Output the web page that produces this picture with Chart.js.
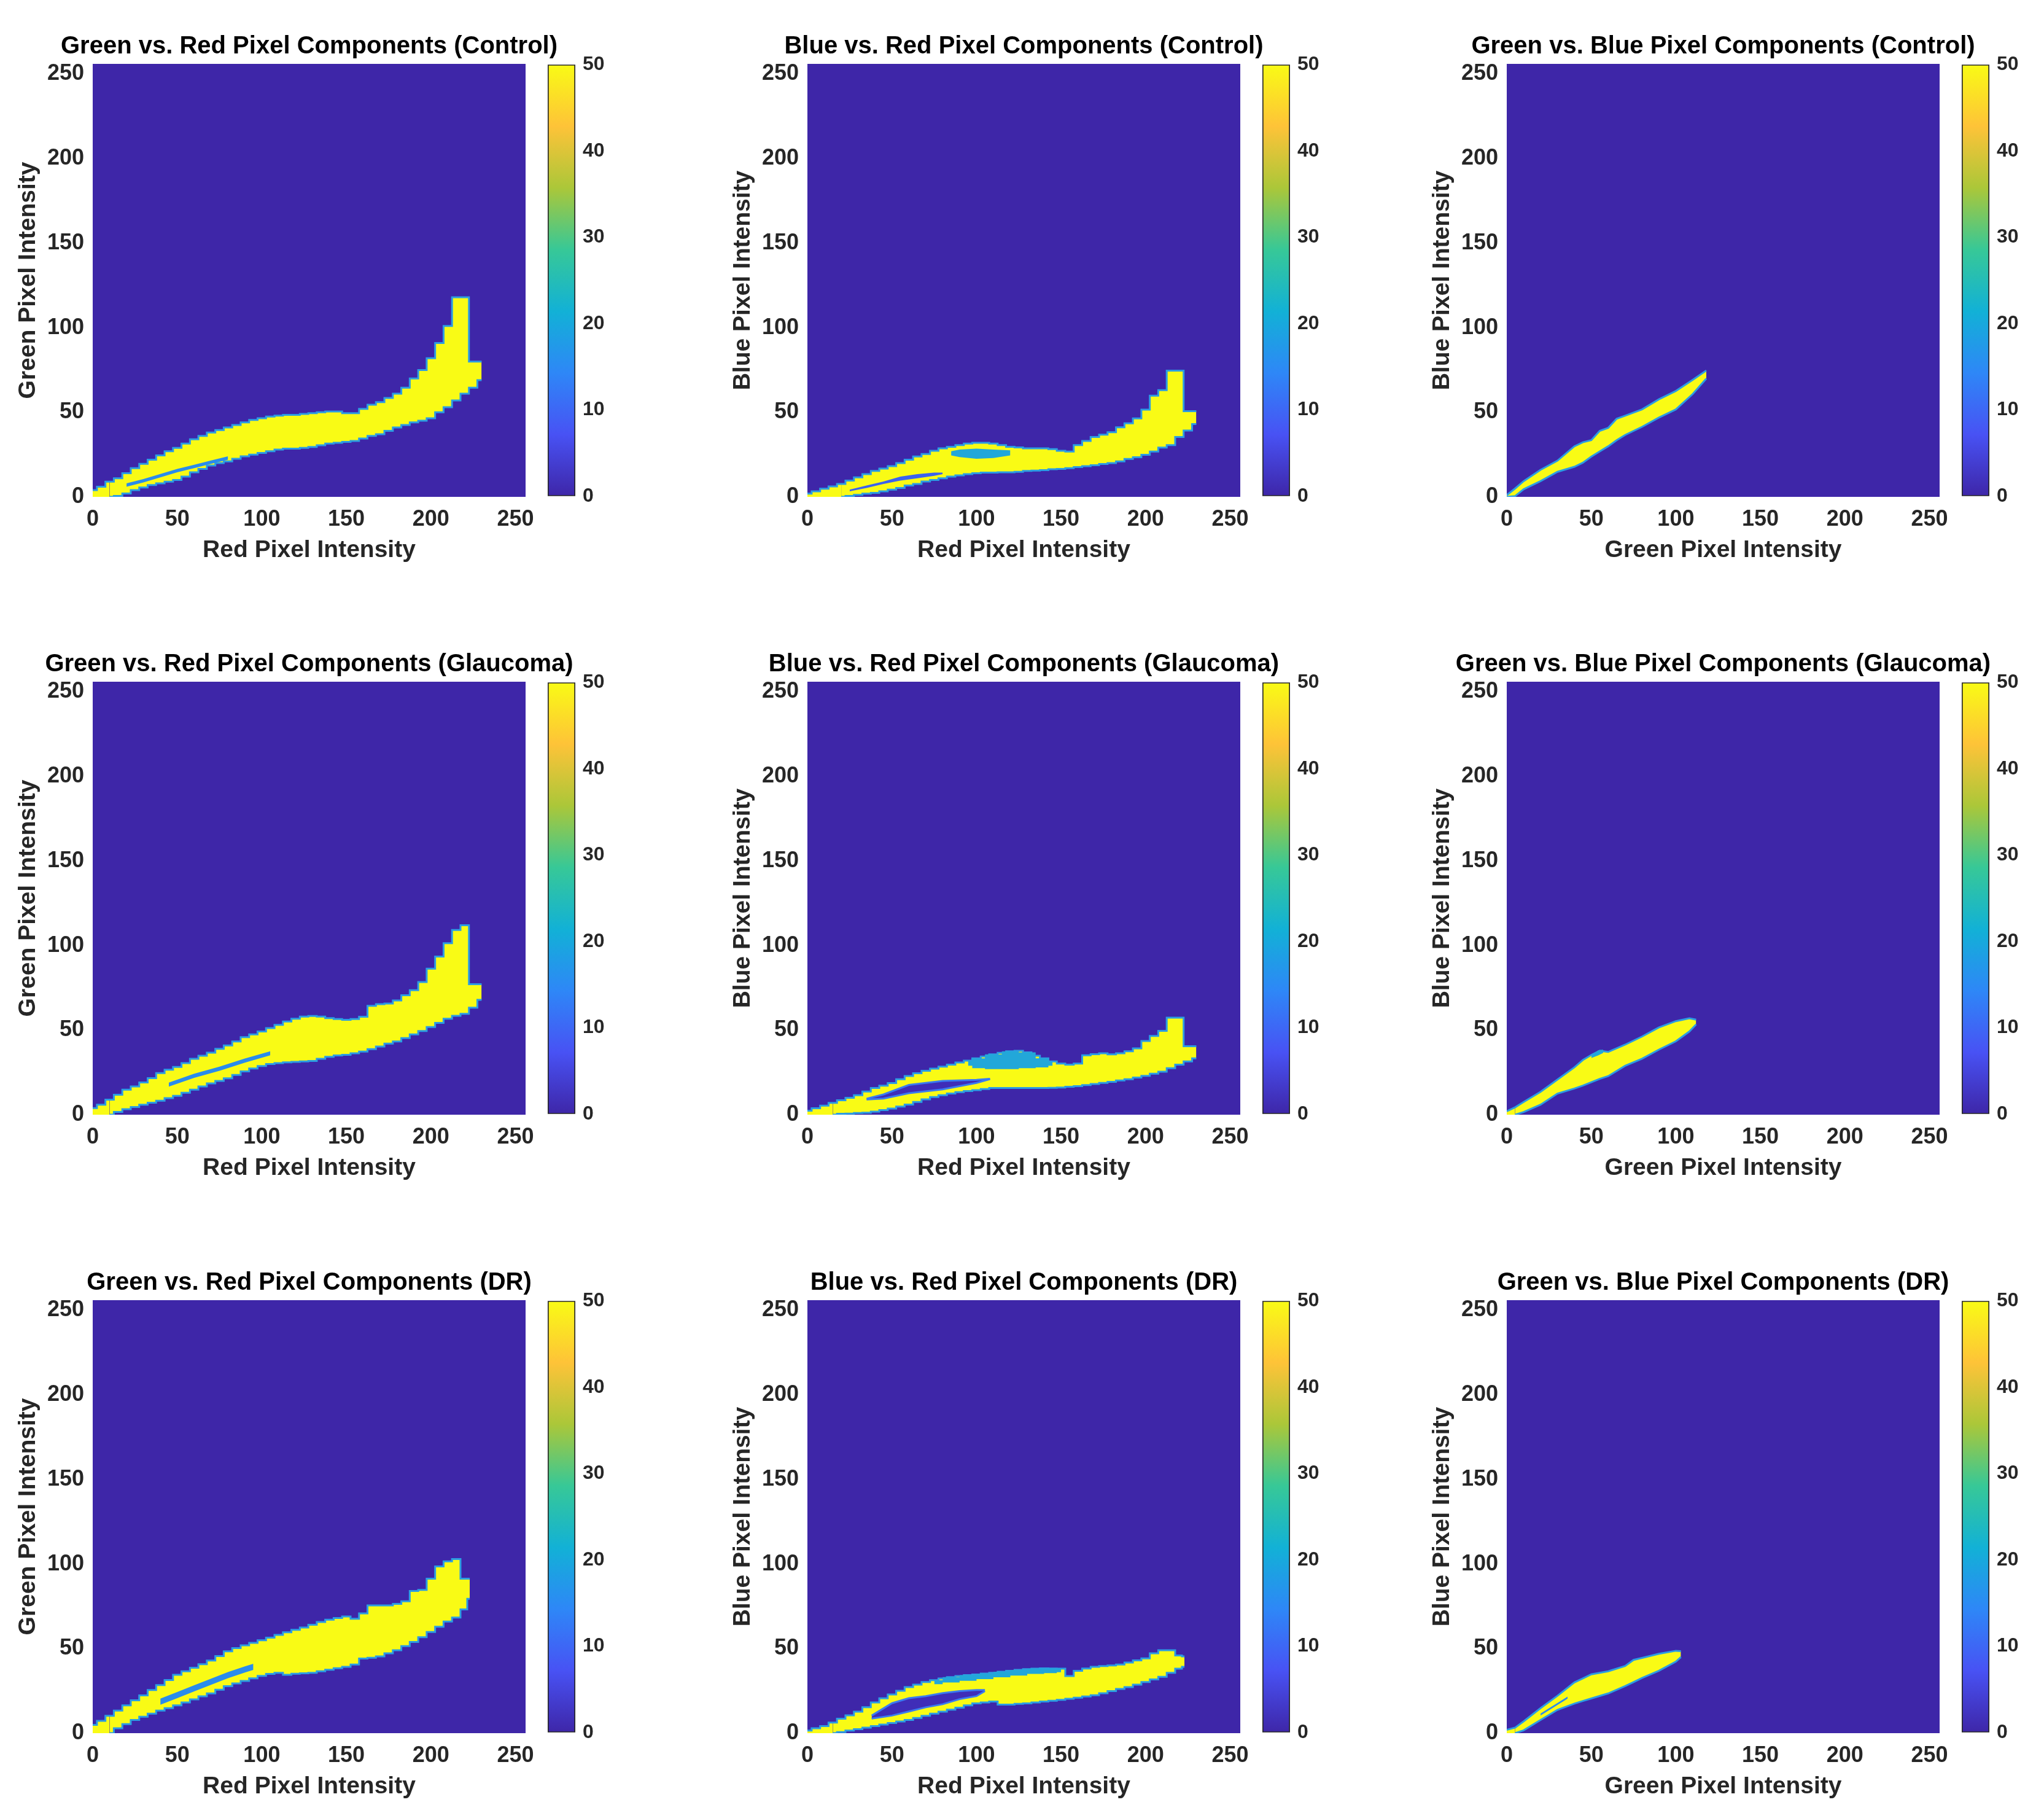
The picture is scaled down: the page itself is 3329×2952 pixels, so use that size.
<!DOCTYPE html>
<html lang="en">
<head>
  <meta charset="UTF-8" />
  <title>Pixel component histograms</title>
  <script src="https://cdn.jsdelivr.net/npm/chart.js@4.4.0/dist/chart.umd.min.js"></script>
  <style>
    body { margin: 0; background: #fff; width: 3329px; height: 2952px; position: relative; overflow: hidden; }
    .box { position: absolute; }
  </style>
</head>
<body>
<script>
  // ---- data: bin centres and band edges ----
  const bins230 = [0,5,10,15,20,25,30,35,40,45,50,55,60,65,70,75,80,85,90,95,100,105,110,115,120,125,130,135,140,145,150,155,160,165,170,175,180,185,190,195,200,205,210,215,220,225,230];
  const bins223 = [0,5,10,15,20,25,30,35,40,45,50,55,60,65,70,75,80,85,90,95,100,105,110,115,120,125,130,135,140,145,150,155,160,165,170,175,180,185,190,195,200,205,210,215,220,223];

  // Green vs Red (Control)
  const grCtrlHi = [4,6,9,11,14,17,19.5,22,24.5,27,29,31.5,34,36,38,39.5,41,42.5,44,45.5,46.5,47.5,48,48.5,48.5,49,49.5,50,50.5,50.5,49.5,49.5,52,54.5,56,58.5,61,64.5,70,75,82,91,101,118,118,80,80];
  const grCtrlLo = [0,0,0,0.5,2,4,5.5,7,8,9,10,12,14.5,16.5,18.5,20,21,22.5,24,25,26,27,28,28.5,28.5,29,29.5,30.5,31.5,32,32.5,33,34.5,36,37,39,41,42.5,44,45,46.5,50,53,57,61,64.5,69];
  const grCtrlStreakX = [20,30,40,50,60,70,80];
  const grCtrlStreakLo = [6,8.5,11.5,14.5,17,19.5,22];
  const grCtrlStreakHi = [8,10.5,13.5,16.5,19,21.5,24];

  // Blue vs Red (Control)
  const brCtrlHi = [1.9,3.3,4.8,6.2,7.6,9.6,11.5,13.4,15.3,16.7,18.2,20,22,23.9,25.3,27.2,28.7,29.6,30.6,31.5,32,32,31.5,30.6,29.6,29.2,28.7,28.7,28.7,28.2,27.2,26.8,30.6,33,35.4,36.8,38.2,41.1,43.5,46.4,51.6,59.8,63.1,74.6,74.6,50.7,50.7];
  const brCtrlLo = [0,0,0,0,0,0.5,1.2,1.9,2.4,3.3,4.3,5.3,6.7,7.6,9.1,10,11,12,12.7,13.4,14,14.3,14.3,14.5,14.5,14.8,15.3,15.5,15.8,16.3,16.5,17,17.6,18.2,18.7,19.4,20,21,22.4,23.4,24.9,26.8,29.1,30.6,35.4,39.2,43];
  const brCtrlStreakX = [25,35,45,55,65,75,80];
  const brCtrlStreakLo = [3.3,5.3,7.6,9.6,11,12.4,13.4];
  const brCtrlStreakHi = [4.3,6.7,9.1,12,13.4,14.3,14.3];
  const brCtrlPatchX = [85,90,100,110,120];
  const brCtrlPatchLo = [24.5,23.5,22.5,23,24.5];
  const brCtrlPatchHi = [27,28,28.5,28,27.5];

  // Green vs Blue (Control)
  const gbCtrlX = [0,5,10,20,30,40,45,50,55,60,65,70,80,90,100,110,118];
  const gbCtrlHi = [1,5,9.3,16,21.4,29.9,32.3,33.5,39,40.8,46.2,48,51.7,57.7,62.6,69.2,74.7];
  const gbCtrlLo = [0,0.5,4.5,9.3,14.8,17.8,20.2,23.8,26.9,29.9,33.5,36.6,41.4,46.9,51.7,60.8,69.9];

  // Green vs Red (Glaucoma)
  const grGlauHi = [3.9,5.9,8.9,11.8,14.8,16.7,19.1,21.6,24.6,26.6,28.2,30.5,33,34.9,36.7,38.9,40.9,43.3,45.8,47.5,49.2,51.2,53.1,55.1,56.7,58,58.4,58,57.1,56.6,56.1,56.6,57.9,64.4,65.4,65.7,67.5,70.6,73.6,78.4,86.3,93.5,101.4,109.2,112,77.2,77.2];
  const grGlauLo = [0,0,0,1.6,3.3,4.5,5.9,7.1,8.3,9.8,11.2,13,14.8,16.7,18.5,20,21.5,23.5,25.6,27.3,28.8,30,30.5,31,31.2,31.5,31.8,33,34.2,35,35.4,36.3,37.3,38.8,40.3,42,43.3,45.3,47.5,49.5,51.8,54.3,56.7,58.5,59.6,63.3,67.9];
  const grGlauStreakX = [45,60,75,90,105];
  const grGlauStreakLo = [16.6,21.8,26,30.8,35.1];
  const grGlauStreakHi = [19,24.2,28.4,33.2,37.5];

  // Blue vs Red (Glaucoma)
  const brGlauHi = [2.4,3.8,5.4,7,8.5,10,11.5,13.7,15.8,17.2,18.7,21,22.9,24.5,26,27.2,28.4,29.6,30.9,32,33.3,34.4,35.7,36.6,37.5,37.8,36.9,34.9,33.3,31.5,30.2,29.6,30.2,35.1,35.8,36.3,35.7,36.3,37.5,39.2,43.6,46.6,49.6,57.4,57.4,40.5,40.5];
  const brGlauLo = [0,0,0,0,0.5,0.6,1,1.2,1.8,2.7,3.6,4.8,6,7.5,9.1,10.4,11.5,12.5,13.3,14,14.5,15.2,15.8,15.8,15.8,15.8,15.8,15.8,15.8,15.9,16.1,16.5,16.9,17.5,18.2,18.8,19.4,20.2,21,22,23,24.2,25.4,27.5,29.6,31.5,33.3];
  const brGlauHoleX = [35,45,60,80,100,108];
  const brGlauHoleLo = [9,9.5,12.7,15,18.8,21];
  const brGlauHoleHi = [9.5,12,17.6,20,20.6,21.2];
  const brGlauPatchX = [95,100,110,120,130,140,145];
  const brGlauPatchLo = [29,27.5,27,27,27.5,28,29];
  const brGlauPatchHi = [32,33.3,35.7,37.5,36.9,33.3,31.5];

  // Green vs Blue (Glaucoma)
  const gbGlauX = [0,5,10,20,30,40,45,50,55,60,70,80,90,100,108,112];
  const gbGlauHi = [2,4.4,7.5,13.5,20.8,28,32.3,35.3,37.8,37.1,41.4,46.2,51.6,55.3,57,56.2];
  const gbGlauLo = [0,0,1.6,5.9,12.5,15.5,17.2,19.2,21.2,22.8,28.9,33.1,38.5,43.4,49.2,53.4];
  const gbGlauBlipX = [50,54,57];
  const gbGlauBlipLo = [33.5,35,36.5];
  const gbGlauBlipHi = [34.5,38,38.5];

  // Green vs Red (DR)
  const grDrHi = [4.9,7.3,10.3,13.3,16.4,19.4,22.3,25.5,28.4,31.4,34.5,36.6,38.7,40.8,42.9,45.6,48.4,50.3,51.9,53.4,54.9,56.5,58.1,59.6,61.1,62.5,64.1,65.7,67.1,68.1,69,67.6,70.8,75.5,75.5,75.5,76.4,78,84.1,84.7,91.3,98.6,101.6,102.9,91.3,91.3];
  const grDrLo = [0,0,0,2.9,5.4,7.8,9.7,11.5,13.3,14.8,16.4,18.2,20,21.8,23.5,25.7,27.8,29.4,30.9,32.4,33.9,35,35.7,34.5,35.1,35.4,35.7,36.6,37.5,38.4,39.2,40.6,44.1,44.6,45.4,47.2,49,51.5,53.9,56.7,59.8,62.9,66,68.4,73.2,79.4];
  const grDrStreakX = [40,50,60,70,80,90,95];
  const grDrStreakLo = [16.8,20.7,24.7,28.6,32.5,35.9,37.4];
  const grDrStreakHi = [20.4,24.3,28.3,32.2,36.1,39.5,41];

  // Blue vs Red (DR)
  const brDrHi = [1.5,2.9,4.2,6.3,8.5,10.5,12.7,15.3,18.2,20.6,22.9,25.1,27.2,28.7,30.2,31.3,32.3,33.1,33.8,34.3,34.7,35.2,35.7,36.3,36.9,37.4,37.9,38.1,38.3,38.2,38.1,33.8,36.9,38.2,39.2,39.7,40,40.6,41.8,43,44.2,47.2,49,49,45.9,45.4];
  const brDrLo = [0,0,0,0,0.6,1.5,2.4,3.3,4.2,5.1,6,6.9,7.8,9,10.3,11.5,12.7,13.9,15.1,16.4,17.6,18.2,18.7,16.9,16.9,17.3,17.6,18.2,18.7,19.2,19.7,20.3,21,21.7,22.4,23.6,24.9,26.1,27.2,28.7,30.2,31.8,33.3,35.7,38.1,39.2];
  const brDrHoleX = [38,50,60,70,80,90,100,105];
  const brDrHoleLo = [8.6,10.4,12.8,15.3,17.1,20.1,21.9,24.9];
  const brDrHoleHi = [10.4,17.7,20.7,21.9,23.7,24.9,25.5,25.5];
  const brDrPatchX = [75,85,95,105,115,125,135,145,150];
  const brDrPatchLo = [29,30,31,32,33,34,35,35.5,36];
  const brDrPatchHi = [31.3,33.1,34.3,35.2,36.3,37.4,38.1,38.2,38.1];

  // Green vs Blue (DR)
  const gbDrX = [0,5,10,20,30,40,45,50,60,70,75,80,90,100,103];
  const gbDrHi = [2,3.3,7,14.8,22.1,30,32.4,34.8,36.6,39.7,43.3,44.5,46.9,48.7,48.5];
  const gbDrLo = [0,0,1.7,7.8,13.8,17.5,19,20.5,23.5,27.8,30.2,32.6,36.9,42.3,45];
  const gbDrStreakX = [20,28,36];
  const gbDrStreakLo = [10.4,15.4,20.4];
  const gbDrStreakHi = [11.6,16.6,21.6];

  const cbarTicks = [0, 10, 20, 30, 40, 50];

  // ---- styling ----
  const FONT = "'Liberation Sans', Arial, sans-serif";
  const TXT = '#262626';
  const BG = '#3E26A8';
  const YELLOW = '#F9FB15';
  const EDGE = '#2C9DE2';
  const STREAK = '#2A8CEB';
  const DEEP = '#3F2DB8';
  const CYAN = '#22A7D9';
  const parula = ['#3E26A8', '#4852F4', '#2E87F7', '#12B1D6', '#37C897', '#ABC739', '#FEC338', '#F9FB15'];

  const colLeft = [151, 1315, 2454];
  const rowTop = [104, 1110, 2117];
  const PLOT = 705;

  function band(x, lo, hi, color, extra) {
    return Object.assign({ x, lo, hi, color, stepped: false, edge: null }, extra || {});
  }

  const panels = [
    { r: 0, c: 0, title: 'Green vs. Red Pixel Components (Control)', xl: 'Red Pixel Intensity', yl: 'Green Pixel Intensity',
      layers: [band(grCtrlStreakX, grCtrlStreakLo, grCtrlStreakHi, STREAK),
               band(bins230, grCtrlLo, grCtrlHi, YELLOW, { stepped: 'middle', edge: EDGE })] },
    { r: 0, c: 1, title: 'Blue vs. Red Pixel Components (Control)', xl: 'Red Pixel Intensity', yl: 'Blue Pixel Intensity',
      layers: [band(brCtrlStreakX, brCtrlStreakLo, brCtrlStreakHi, '#3B62EE'),
               band(brCtrlPatchX, brCtrlPatchLo, brCtrlPatchHi, CYAN),
               band(bins230, brCtrlLo, brCtrlHi, YELLOW, { stepped: 'middle', edge: EDGE })] },
    { r: 0, c: 2, title: 'Green vs. Blue Pixel Components (Control)', xl: 'Green Pixel Intensity', yl: 'Blue Pixel Intensity',
      layers: [band(gbCtrlX, gbCtrlLo, gbCtrlHi, YELLOW, { edge: EDGE })] },
    { r: 1, c: 0, title: 'Green vs. Red Pixel Components (Glaucoma)', xl: 'Red Pixel Intensity', yl: 'Green Pixel Intensity',
      layers: [band(grGlauStreakX, grGlauStreakLo, grGlauStreakHi, STREAK),
               band(bins230, grGlauLo, grGlauHi, YELLOW, { stepped: 'middle', edge: EDGE })] },
    { r: 1, c: 1, title: 'Blue vs. Red Pixel Components (Glaucoma)', xl: 'Red Pixel Intensity', yl: 'Blue Pixel Intensity',
      layers: [band(brGlauHoleX, brGlauHoleLo, brGlauHoleHi, DEEP, { edge: '#3A7CF0' }),
               band(brGlauPatchX, brGlauPatchLo, brGlauPatchHi, CYAN, { stepped: 'middle' }),
               band(bins230, brGlauLo, brGlauHi, YELLOW, { stepped: 'middle', edge: EDGE })] },
    { r: 1, c: 2, title: 'Green vs. Blue Pixel Components (Glaucoma)', xl: 'Green Pixel Intensity', yl: 'Blue Pixel Intensity',
      layers: [band(gbGlauBlipX, gbGlauBlipLo, gbGlauBlipHi, CYAN),
               band(gbGlauX, gbGlauLo, gbGlauHi, YELLOW, { edge: EDGE })] },
    { r: 2, c: 0, title: 'Green vs. Red Pixel Components (DR)', xl: 'Red Pixel Intensity', yl: 'Green Pixel Intensity',
      layers: [band(grDrStreakX, grDrStreakLo, grDrStreakHi, STREAK),
               band(bins223, grDrLo, grDrHi, YELLOW, { stepped: 'middle', edge: EDGE })] },
    { r: 2, c: 1, title: 'Blue vs. Red Pixel Components (DR)', xl: 'Red Pixel Intensity', yl: 'Blue Pixel Intensity',
      layers: [band(brDrHoleX, brDrHoleLo, brDrHoleHi, DEEP, { edge: '#3A7CF0' }),
               band(brDrPatchX, brDrPatchLo, brDrPatchHi, CYAN, { stepped: 'middle' }),
               band(bins223, brDrLo, brDrHi, YELLOW, { stepped: 'middle', edge: EDGE })] },
    { r: 2, c: 2, title: 'Green vs. Blue Pixel Components (DR)', xl: 'Green Pixel Intensity', yl: 'Blue Pixel Intensity',
      layers: [band(gbDrStreakX, gbDrStreakLo, gbDrStreakHi, STREAK),
               band(gbDrX, gbDrLo, gbDrHi, YELLOW, { edge: EDGE })] }
  ];

  const plotBg = {
    id: 'plotBg',
    beforeDatasetsDraw(chart) {
      const { ctx, chartArea: a } = chart;
      ctx.save();
      ctx.fillStyle = BG;
      ctx.fillRect(a.left, a.top, a.width, a.height);
      ctx.restore();
    }
  };

  function addBox(left, top, w, h) {
    const div = document.createElement('div');
    div.className = 'box';
    div.style.cssText = `left:${left}px;top:${top}px;width:${w}px;height:${h}px`;
    const cv = document.createElement('canvas');
    div.appendChild(cv);
    document.body.appendChild(div);
    return cv;
  }

  const pts = (xs, ys) => xs.map((x, i) => ({ x: x, y: ys[i] }));
  const hideFloor = {
    borderColor: ctx => (ctx.p0.parsed.y === 0 && ctx.p1.parsed.y === 0) ? 'rgba(0,0,0,0)' : undefined
  };

  function heatmap(p) {
    const left = colLeft[p.c], top = rowTop[p.r];
    // canvas is symmetric around the plot so the full-width title is centred on it
    const cv = addBox(left - 151, top - 104, 151 + PLOT + 151, 104 + PLOT + 135);
    const datasets = [];
    p.layers.forEach(l => {
      const common = {
        pointRadius: 0, stepped: l.stepped, tension: 0, clip: 0,
        borderColor: l.edge || 'rgba(0,0,0,0)', borderWidth: l.edge ? 3 : 0
      };
      datasets.push(Object.assign({ data: pts(l.x, l.lo), fill: false, segment: hideFloor }, common));
      datasets.push(Object.assign({ data: pts(l.x, l.hi), fill: '-1', backgroundColor: l.color }, common));
    });

    new Chart(cv, {
      type: 'line',
      data: { datasets: datasets },
      options: {
        responsive: true, maintainAspectRatio: false, animation: false,
        layout: { padding: 0 },
        plugins: {
          legend: { display: false },
          tooltip: { enabled: false },
          title: {
            display: true, text: p.title, color: '#000',
            font: { family: FONT, size: 40, weight: 'bold', lineHeight: 1.2 },
            padding: { top: 52, bottom: 4 }
          }
        },
        scales: {
          x: {
            type: 'linear', min: 0, max: 256,
            grid: { display: false, drawTicks: false }, border: { display: false },
            ticks: { stepSize: 50, includeBounds: false, autoSkip: false, maxRotation: 0, padding: 15, color: TXT,
                     font: { family: FONT, size: 36, weight: 'bold' } },
            title: { display: true, text: p.xl, color: TXT, font: { family: FONT, size: 39, weight: 'bold', lineHeight: 1.2 },
                     padding: { top: 0, bottom: 24.6 } },
            afterFit: s => { s.height = 135; }
          },
          y: {
            type: 'linear', min: 0, max: 256,
            grid: { display: false, drawTicks: false }, border: { display: false },
            ticks: { stepSize: 50, includeBounds: false, autoSkip: false, padding: 14, color: TXT,
                     font: { family: FONT, size: 36, weight: 'bold' } },
            title: { display: true, text: p.yl, color: TXT, font: { family: FONT, size: 39, weight: 'bold', lineHeight: 1.2 },
                     padding: { top: 22.6, bottom: 0 } },
            afterFit: s => { s.width = 151; }
          },
          spacer: {
            type: 'linear', position: 'right', min: 0, max: 1,
            grid: { display: false, drawTicks: false }, border: { display: false },
            ticks: { display: false },
            afterFit: s => { s.width = 151; }
          }
        }
      },
      plugins: [plotBg]
    });
  }

  function parulaFill(context) {
    const chart = context.chart, a = chart.chartArea;
    if (!a) return parula[0];
    const g = chart.ctx.createLinearGradient(0, a.bottom, 0, a.top);
    parula.forEach((c, i) => g.addColorStop(i / (parula.length - 1), c));
    return g;
  }

  function colorbar(p) {
    const left = colLeft[p.c] + PLOT + 36, top = rowTop[p.r];
    const cv = addBox(left, top - 30, 45 + 95, PLOT + 60);
    new Chart(cv, {
      type: 'bar',
      data: {
        labels: [''],
        datasets: [{
          data: [[cbarTicks[0], cbarTicks[cbarTicks.length - 1]]],
          backgroundColor: parulaFill, borderColor: TXT, borderWidth: 2, borderSkipped: false,
          barPercentage: 1, categoryPercentage: 1
        }]
      },
      options: {
        responsive: true, maintainAspectRatio: false, animation: false,
        layout: { padding: { top: 30, bottom: 30, left: 0, right: 0 } },
        plugins: { legend: { display: false }, tooltip: { enabled: false } },
        scales: {
          x: { display: false },
          y: {
            position: 'right', min: cbarTicks[0], max: cbarTicks[cbarTicks.length - 1],
            grid: { display: false, drawTicks: false }, border: { display: false },
            afterBuildTicks: s => { s.ticks = cbarTicks.map(v => ({ value: v })); },
            ticks: { padding: 12, color: TXT, font: { family: FONT, size: 32, weight: 'bold' } },
            afterFit: s => { s.width = 95; }
          }
        }
      }
    });
  }

  panels.forEach(p => { heatmap(p); colorbar(p); });
</script>
</body>
</html>
